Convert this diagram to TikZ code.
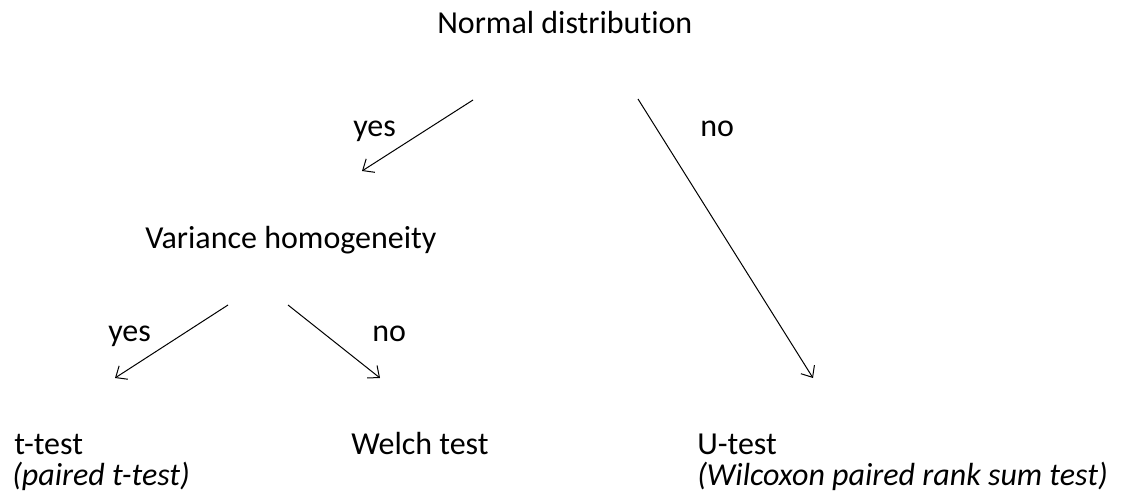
\documentclass[tikz,border=0pt]{standalone}
\usepackage{fontspec}
\setmainfont{Carlito}[Ligatures=NoCommon]
\usetikzlibrary{arrows.meta}
\begin{document}
\begin{tikzpicture}[x=0.75pt,y=-0.75pt,
  lbl/.style={inner sep=0pt,anchor=base west,font=\fontsize{24}{29}\selectfont},
  arr/.style={draw,line width=0.75pt,-{Straight Barb[length=7pt,width=12pt]}}]
\useasboundingbox (0,0) rectangle (1122,502);
\node[lbl] (nd) at (437,34) {Normal distribution};
\node[lbl] (y1) at (353,137) {yes};
\node[lbl] (n1) at (700,137) {no};
\node[lbl] (vh) at (145,249) {Variance homogeneity};
\node[lbl] (y2) at (108,342) {yes};
\node[lbl] (n2) at (372,342) {no};
\node[lbl] (tt) at (14,455) {t-test};
\node[lbl] (pt) at (12,485) {\itshape (paired t-test)};
\node[lbl] (wt) at (351,455) {Welch test};
\node[lbl] (ut) at (697,455) {U-test};
\node[lbl] (wx) at (697,485) {\itshape (Wilcoxon paired rank sum test)};
\coordinate (a1s) at (473,100);
\coordinate (a1e) at (362,171);
\coordinate (a2s) at (638,99);
\coordinate (a2e) at (813,378);
\coordinate (a3s) at (228,305);
\coordinate (a3e) at (115,378);
\coordinate (a4s) at (288,305);
\coordinate (a4e) at (380,378);
\draw[arr] (a1s) -- (a1e);
\draw[arr] (a2s) -- (a2e);
\draw[arr] (a3s) -- (a3e);
\draw[arr] (a4s) -- (a4e);
\end{tikzpicture}
\end{document}
